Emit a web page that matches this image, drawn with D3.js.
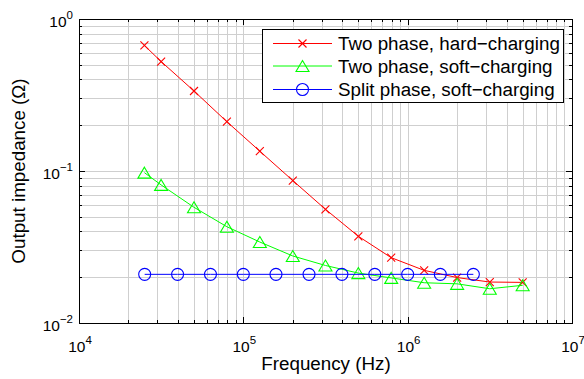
<!DOCTYPE html>
<html><head><meta charset="utf-8">
<script src="https://cdn.jsdelivr.net/npm/d3@7"></script>
<style>
html,body{margin:0;padding:0;background:#fff;}
text{font-family:"Liberation Sans",Arial,Helvetica,sans-serif;fill:#000;}
</style></head>
<body><svg id="c" width="584" height="379"></svg>
<script>
// ---- data ----
const freqTwoPhase = [2.5e4, 3.16e4, 5.01e4, 7.94e4, 1.26e5, 2.0e5, 3.16e5, 5.01e5, 7.94e5, 1.26e6, 2.0e6, 3.16e6, 5.01e6];
const hardCharging = [0.67, 0.525, 0.336, 0.211, 0.135, 0.0865, 0.056, 0.0372, 0.0269, 0.0222, 0.0199, 0.0186, 0.0185];
const softCharging = [0.0975, 0.081, 0.0577, 0.043, 0.0341, 0.0276, 0.0239, 0.0213, 0.0198, 0.0184, 0.0181, 0.0168, 0.0177];
const freqSplit = [2.51e4, 3.98e4, 6.31e4, 1.0e5, 1.58e5, 2.51e5, 3.98e5, 6.31e5, 1.0e6, 1.58e6, 2.51e6];
const splitSoft = [0.0209, 0.0209, 0.0209, 0.0209, 0.0209, 0.0209, 0.0209, 0.0209, 0.0209, 0.0209, 0.0209];
const seriesNames = ["Two phase, hard\u2212charging", "Two phase, soft\u2212charging", "Split phase, soft\u2212charging"];
const xTickExps = [4, 5, 6, 7];
const yTickExps = [-2, -1, 0];
const xLabel = "Frequency (Hz)";
const yLabel = "Output impedance (\u03A9)";

// ---- layout ----
const L = 79, R = 572, T = 19, B = 323;
const svg = d3.select("#c");
const x = d3.scaleLog().domain([1e4, 1e7]).range([L, R]);
const y = d3.scaleLog().domain([1e-2, 1]).range([B, T]);

const xMinor = [], yMinor = [];
for (let e = 4; e < 7; e++) for (let m = 1; m < 10; m++) xMinor.push(m * Math.pow(10, e));
xMinor.push(1e7);
for (let e = -2; e < 0; e++) for (let m = 1; m < 10; m++) yMinor.push(m * Math.pow(10, e));
yMinor.push(1);

const grid = svg.append("g").attr("stroke", "#cfcfcf").attr("stroke-width", 1).attr("shape-rendering", "crispEdges");
xMinor.forEach(v => { const px = Math.round(x(v)) + 0.5; grid.append("line").attr("x1", px).attr("x2", px).attr("y1", T).attr("y2", B); });
yMinor.forEach(v => { const py = Math.round(y(v)) + 0.5; grid.append("line").attr("x1", L).attr("x2", R).attr("y1", py).attr("y2", py); });

const tk = svg.append("g").attr("stroke", "#000").attr("stroke-width", 1).attr("shape-rendering", "crispEdges");
xMinor.forEach(v => {
  const major = Math.abs(Math.log10(v) - Math.round(Math.log10(v))) < 1e-9;
  const len = major ? 6 : 3;
  const px = Math.round(x(v)) + 0.5;
  tk.append("line").attr("x1", px).attr("x2", px).attr("y1", B).attr("y2", B - len);
  tk.append("line").attr("x1", px).attr("x2", px).attr("y1", T).attr("y2", T + len);
});
yMinor.forEach(v => {
  const major = Math.abs(Math.log10(v) - Math.round(Math.log10(v))) < 1e-9;
  const len = major ? 6 : 3;
  const py = Math.round(y(v)) + 0.5;
  tk.append("line").attr("x1", L).attr("x2", L + len).attr("y1", py).attr("y2", py);
  tk.append("line").attr("x1", R).attr("x2", R - len).attr("y1", py).attr("y2", py);
});

svg.append("rect").attr("x", L + 0.5).attr("y", T + 0.5).attr("width", R - L).attr("height", B - T)
  .attr("fill", "none").attr("stroke", "#000").attr("stroke-width", 1).attr("shape-rendering", "crispEdges");

function powLabel(g, e) {
  g.append("tspan").text("10").attr("font-size", 15.5);
  g.append("tspan").text(e < 0 ? "\u2212" + (-e) : String(e)).attr("font-size", 11.5).attr("dy", -8);
}
xTickExps.forEach(e => {
  const t = svg.append("text").attr("x", x(Math.pow(10, e)) + 1).attr("y", B + 29).attr("text-anchor", "middle");
  powLabel(t, e);
});
yTickExps.forEach(e => {
  const t = svg.append("text").attr("x", L - 6).attr("y", y(Math.pow(10, e)) + 8).attr("text-anchor", "end");
  powLabel(t, e);
});

svg.append("text").attr("x", (L + R) / 2 + 0.5).attr("y", 370).attr("text-anchor", "middle").attr("font-size", 18.8).text(xLabel);
svg.append("text").attr("transform", "translate(25," + ((T + B) / 2) + ") rotate(-90)").attr("text-anchor", "middle").attr("font-size", 18.8).text(yLabel);

function markX(g, cx, cy, color) {
  const s = 4;
  g.append("path").attr("d", `M${cx - s},${cy - s}L${cx + s},${cy + s}M${cx - s},${cy + s}L${cx + s},${cy - s}`)
    .attr("stroke", color).attr("stroke-width", 1.1).attr("fill", "none");
}
function markTri(g, cx, cy, color) {
  const w = 6.5, h = 5.5;
  g.append("path").attr("d", `M${cx},${cy - h}L${cx + w},${cy + h}L${cx - w},${cy + h}Z`)
    .attr("stroke", color).attr("stroke-width", 1.1).attr("fill", "none");
}
function markCirc(g, cx, cy, color) {
  g.append("circle").attr("cx", cx).attr("cy", cy).attr("r", 6)
    .attr("stroke", color).attr("stroke-width", 1.1).attr("fill", "none");
}

const series = [
  { xs: freqTwoPhase, ys: hardCharging, color: "#ff0000", mark: markX },
  { xs: freqTwoPhase, ys: softCharging, color: "#00ff00", mark: markTri },
  { xs: freqSplit, ys: splitSoft, color: "#0000ff", mark: markCirc }
];
const line = d3.line().x(d => x(d[0])).y(d => y(d[1]));
const plot = svg.append("g");
series.forEach(s => {
  const pts = s.xs.map((v, i) => [v, s.ys[i]]);
  plot.append("path").datum(pts).attr("d", line).attr("fill", "none").attr("stroke", s.color).attr("stroke-width", 1);
  pts.forEach(p => s.mark(plot, x(p[0]), y(p[1]), s.color));
});

const lg = svg.append("g");
lg.append("rect").attr("x", 262.5).attr("y", 29.5).attr("width", 301).attr("height", 73)
  .attr("fill", "#fff").attr("stroke", "#000").attr("stroke-width", 1).attr("shape-rendering", "crispEdges");
const rowsY = [43.5, 66, 89.5];
series.forEach((s, i) => {
  const cy = rowsY[i];
  lg.append("line").attr("x1", 273).attr("x2", 332).attr("y1", cy).attr("y2", cy).attr("stroke", s.color).attr("stroke-width", 1);
  s.mark(lg, 302.5, cy, s.color);
  lg.append("text").attr("x", 338).attr("y", cy + 6.5).attr("font-size", 18.8).text(seriesNames[i]);
});
</script></body></html>
